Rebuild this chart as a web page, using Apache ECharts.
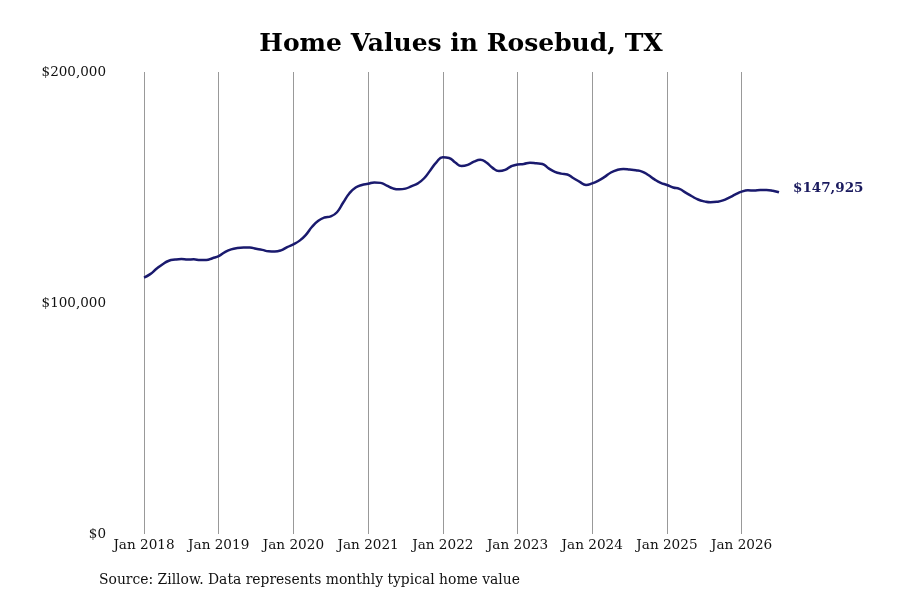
<!DOCTYPE html>
<html>
<head>
<meta charset="utf-8">
<script src="https://cdn.jsdelivr.net/npm/echarts@6/dist/echarts.min.js"></script>
<style>
  html, body { margin: 0; padding: 0; background: #fff; }
  #main { width: 900px; height: 600px; }
</style>
</head>
<body>
<div id="main"></div>
<script>
const monthNames = ["Jan", "Feb", "Mar", "Apr", "May", "Jun", "Jul", "Aug", "Sep", "Oct", "Nov", "Dec"];
const startYear = 2018;
const yTicks = [0, 100000, 200000];

// typical home value per month, Jan 2018 .. Jul 2026 (thousands of $)
const homeValues = [
  111.0, 112.5, 114.8, 116.8, 118.3, 118.8, 119.0, 118.8, 118.9, 118.6, 118.6, 119.4,
  120.3, 122.0, 123.2, 123.8, 124.0, 124.0, 123.5, 123.0, 122.4, 122.3, 122.8, 124.2,
  125.4, 127.0, 129.5, 133.0, 135.6, 137.0, 137.5, 139.3, 143.5, 147.5, 150.0, 151.1,
  151.6, 152.2, 152.0, 150.8, 149.6, 149.2, 149.5, 150.6, 151.8, 154.0, 157.5, 161.0,
  163.1, 162.8, 160.8, 159.3, 159.8, 161.2, 162.0, 160.8, 158.5, 157.1, 157.6, 159.2,
  160.0, 160.2, 160.7, 160.5, 160.2, 158.3, 156.8, 156.0, 155.6, 154.0, 152.4, 151.1,
  151.8, 153.0, 154.6, 156.5, 157.6, 158.0, 157.8, 157.5, 156.9, 155.4, 153.5, 152.0,
  151.1, 150.0, 149.4, 147.8, 146.2, 144.8, 144.0, 143.6, 143.8, 144.4, 145.6, 147.0,
  148.2, 148.8, 148.7, 148.9, 148.9, 148.6, 147.925
];

const months = homeValues.map((_, i) => monthNames[i % 12] + " " + (startYear + Math.floor(i / 12)));
const values = homeValues.map((v) => Math.round(v * 1000));

const fmtMoney = (v) => "$" + v.toLocaleString("en-US");
const serif = "DejaVu Serif";

const chart = echarts.init(document.getElementById("main"));

chart.setOption({
  animation: false,
  title: {
    text: "Home Values in Rosebud, TX",
    left: 456,
    top: 27,
    textAlign: "center",
    textStyle: {
      fontFamily: serif,
      fontWeight: "bold",
      fontSize: 25,
      color: "#000",
    },
  },
  graphic: [
    {
      type: "text",
      left: 99,
      top: 573,
      style: {
        text: "Source: Zillow. Data represents monthly typical home value",
        font: "13.9px " + serif,
        fill: "#111",
      },
    },
  ],
  grid: {
    left: 144,
    right: 121,
    top: 72,
    bottom: 66,
    containLabel: false,
  },
  xAxis: {
    type: "category",
    boundaryGap: false,
    data: months,
    axisLine: { show: false },
    axisTick: { show: false },
    axisLabel: {
      interval: (i) => i % 12 === 0,
      fontFamily: serif,
      fontSize: 13.6,
      color: "#111",
      margin: 4,
    },
    splitLine: {
      show: true,
      interval: (i) => i % 12 === 0,
      lineStyle: { color: "#999", width: 1 },
    },
  },
  yAxis: {
    type: "value",
    min: yTicks[0],
    max: yTicks[yTicks.length - 1],
    interval: yTicks[1] - yTicks[0],
    axisLine: { show: false },
    axisTick: { show: false },
    splitLine: { show: false },
    axisLabel: {
      formatter: fmtMoney,
      fontFamily: serif,
      fontSize: 13.5,
      color: "#111",
      margin: 38,
    },
  },
  series: [
    {
      name: "Home value",
      type: "line",
      data: values,
      smooth: true,
      showSymbol: false,
      lineStyle: { color: "#1a1a6e", width: 2.5 },
      endLabel: {
        show: true,
        formatter: (p) => fmtMoney(p.value),
        distance: 14,
        offset: [0, -4],
        fontFamily: serif,
        fontWeight: "bold",
        fontSize: 13.5,
        color: "#1a1a5e",
      },
    },
  ],
});
</script>
</body>
</html>
